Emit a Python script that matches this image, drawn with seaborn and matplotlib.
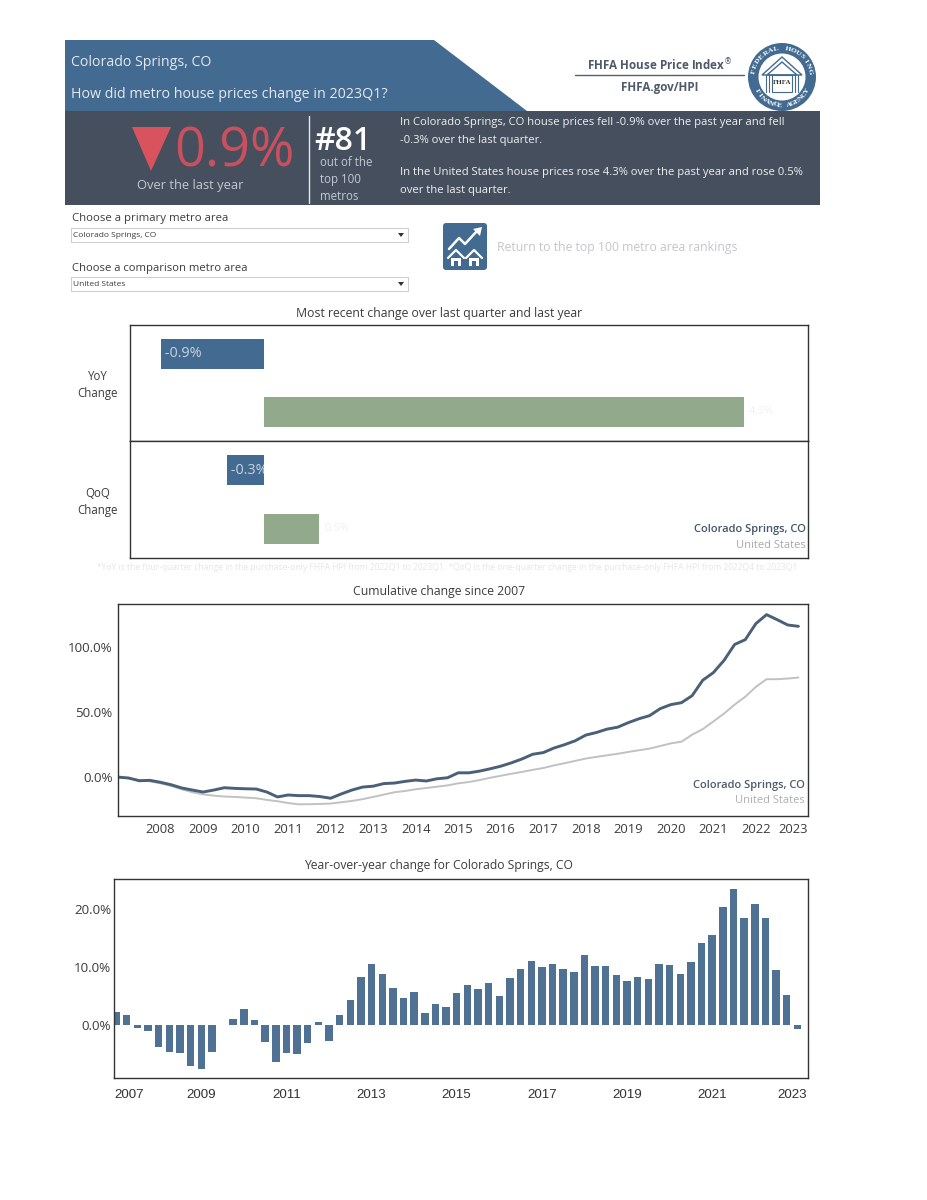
import numpy as np
import pandas as pd
import matplotlib
matplotlib.use("Agg")
import matplotlib.pyplot as plt
from matplotlib.patches import Polygon, Rectangle, Circle, FancyBboxPatch
import seaborn as sns

# values
metros = ["Colorado Springs, CO", "United States"]
yoy_change = [-0.93, 4.31]
qoq_change = [-0.34, 0.49]
yoy_labels = ["-0.9%", "4.3%"]
qoq_labels = ["-0.3%", "0.5%"]

quarters = pd.period_range("2007Q1", "2023Q1", freq="Q").astype(str).tolist()

cumulative_primary = [
    0, -0.7, -2.8, -2.5, -4, -5.9, -8.4, -10, -11.5, -10, -8.2, -8.7, -9, -9.2, -11.5, -15.3,
    -13.8, -14.3, -14.3, -15, -16.3, -13, -10, -7.7, -7, -5, -4.6, -3.3, -2.3, -3, -1.3, -0.5,
    3.3, 3.3, 4.6, 6.4, 8.4, 11, 14, 17.6, 18.9, 22.4, 25, 28, 32.4, 34.4, 37, 38.5,
    42, 45, 47.4, 52.8, 55.9, 57.4, 62.8, 74.7, 80.6, 90, 102.3, 106, 118.4, 125.3, 121.4, 117.3, 116.3,
]
cumulative_compare = [
    0, -1, -2.3, -3.3, -4.8, -6.9, -9.4, -11.7, -13.3, -14.3, -15, -15.3, -15.8, -16.3, -17.6, -18.6,
    -20, -21, -20.9, -20.7, -20.4, -19.4, -18.4, -17, -15.3, -13.5, -11.7, -10.7, -9.4, -8.4, -7.4, -6.4,
    -4.8, -3.8, -2.3, -0.5, 1, 2.6, 4, 5.6, 7, 9, 10.7, 12.5, 14.3, 15.6, 16.8, 18,
    19.4, 20.7, 22, 24, 26, 27.3, 32.7, 37, 42.9, 49, 55.9, 62, 69.6, 75.5, 75.5, 76, 76.8,
]
yoy_history = [
    2.2, 1.7, -0.6, -1.1, -3.9, -4.7, -5.0, -7.3, -7.7, -4.7, 0, 0.9, 2.7, 0.8, -3.0, -6.6,
    -4.9, -5.1, -3.2, 0.35, -2.8, 1.6, 4.3, 8.3, 10.5, 8.8, 6.3, 4.6, 5.6, 2.0, 3.6, 3.0,
    5.5, 6.8, 6.2, 7.2, 5.0, 8.0, 9.7, 11.0, 10.0, 10.6, 9.6, 9.2, 12.0, 10.1, 10.1, 8.6,
    7.5, 8.3, 7.9, 10.6, 10.4, 8.8, 10.8, 14.2, 15.6, 20.5, 23.6, 18.5, 21.0, 18.5, 9.5, 5.2, -0.8,
]

line_years = list(range(2008, 2024))
bar_years = list(range(2007, 2024, 2))

BLUE = "#436b91"
DARK = "#454f5d"
GREEN = "#93a98c"
LINE = "#4b6076"
GREY_LINE = "#bfc2bf"
TEXT = "#3c3c3c"
W, H = 927, 1200

sns.set_theme(style="white")
plt.rcParams["font.family"] = ["Open Sans", "DejaVu Sans"]


def panel(fig, left, top, right, bottom):
    ax = fig.add_axes([left / W, 1 - bottom / H, (right - left) / W, (bottom - top) / H])
    for s in ax.spines.values():
        s.set_visible(True)
        s.set_color("#333333")
        s.set_linewidth(1.0)
    return ax


fig = plt.figure(figsize=(9.27, 12), dpi=100, facecolor="white")

# page level drawing in pixel coordinates
page = fig.add_axes([0, 0, 1, 1])
page.set_xlim(0, W)
page.set_ylim(H, 0)
page.axis("off")

page.add_patch(Polygon([(65, 40), (434, 40), (527, 111), (65, 111)], color=BLUE, lw=0))
page.add_patch(Rectangle((65, 111), 755, 94, color=DARK, lw=0))
page.text(71, 62, "Colorado Springs, CO", color="#e4e8ec", fontsize=10.2, va="center")
page.text(71, 95, "How did metro house prices change in 2023Q1?", color="#e4e8ec", fontsize=10.3, va="center")

page.add_patch(Polygon([(132, 127), (171, 127), (151, 171)], color="#d9535f", lw=0))
page.text(174, 152, "0.9%", color="#c9505e", fontsize=38.8, va="center", ha="left")
page.text(190, 186, "Over the last year", color="#c3cad2", fontsize=9.3, ha="center", va="center")
page.plot([309, 309], [116, 203], color="#e8e8e8", lw=1)
page.text(314, 141, "#81", color="white", fontsize=23, va="center", weight="semibold")
page.text(320, 162, "out of the", color="#c3cad2", fontsize=8.3, va="center")
page.text(320, 179, "top 100", color="#c3cad2", fontsize=8.3, va="center")
page.text(320, 196, "metros", color="#c3cad2", fontsize=8.3, va="center")

summary = [
    (122, "In Colorado Springs, CO house prices fell -0.9% over the past year and fell"),
    (141, "-0.3% over the last quarter."),
    (173, "In the United States house prices rose 4.3% over the past year and rose 0.5%"),
    (191, "over the last quarter."),
]
for y, line in summary:
    page.text(400, y, line, color="#eef0f2", fontsize=8.1, va="center")

# FHFA block
page.text(660, 65, "FHFA House Price Index$^{®}$", color="#50596a", fontsize=8.4, weight="bold", ha="center", va="center")
page.plot([575, 744], [75, 75], color="#555f6c", lw=1)
page.text(660, 87, "FHFA.gov/HPI", color="#50596a", fontsize=8.4, weight="bold", ha="center", va="center")

cx, cy = 782, 77
page.add_patch(Circle((cx, cy), 34, color=BLUE, lw=0))
page.add_patch(Circle((cx, cy), 23.5, color="white", lw=0))
page.add_patch(Polygon([(cx - 20, cy - 2), (cx, cy - 20), (cx + 20, cy - 2)], fill=False, ec=BLUE, lw=1))
page.add_patch(Polygon([(cx - 15, cy - 2), (cx, cy - 15), (cx + 15, cy - 2)], fill=False, ec=BLUE, lw=1))
page.add_patch(Rectangle((cx - 10, cy - 2), 20, 17, fill=False, ec=BLUE, lw=0.8))
for px in (cx - 16, cx - 13, cx + 13, cx + 16):
    page.plot([px, px], [cy - 2, cy + 15], color=BLUE, lw=0.8)
page.text(cx, cy + 6, "FHFA", fontsize=5, weight="bold", color="#333333", ha="center", va="center", family="Liberation Serif")
for word, start, end, flip in [("FEDERAL HOUSING", -168, -12, False), ("FINANCE AGENCY", 150, 30, True)]:
    for ch, deg in zip(word, np.linspace(start, end, len(word))):
        rad = np.radians(deg)
        page.text(cx + 28.5 * np.cos(rad), cy + 28.5 * np.sin(rad), ch, color="white", fontsize=5.4,
                  ha="center", va="center", family="Liberation Serif", weight="bold",
                  rotation=(90 - deg) if flip else (-deg - 90))

# selectors
page.text(72, 218, "Choose a primary metro area", color=TEXT, fontsize=8.2, va="center")
page.text(72, 268, "Choose a comparison metro area", color=TEXT, fontsize=8.1, va="center")
for y, name in [(228, "Colorado Springs, CO"), (277, "United States")]:
    page.add_patch(Rectangle((71, y), 337, 14, fc="white", ec="#cfcfcf", lw=0.8))
    page.text(73, y + 7.5, name, color=TEXT, fontsize=6, va="center")
    page.add_patch(Polygon([(398, y + 5), (404, y + 5), (401, y + 9)], color="#333333", lw=0))

# link icon
page.add_patch(FancyBboxPatch((443, 223), 44, 47, boxstyle="round,pad=0,rounding_size=3", fc=BLUE, ec="none"))
page.plot([449, 459, 465, 477], [249, 238, 244, 231], color="white", lw=1.8)
page.add_patch(Polygon([(482, 227), (473, 229), (480, 236)], color="white", lw=0))
for hx in (456, 474):
    page.plot([hx - 8, hx, hx + 8], [258, 250, 258], color="white", lw=1.6)
    page.add_patch(Rectangle((hx - 5, 258), 10, 8, color="white", lw=0))
    page.add_patch(Rectangle((hx - 2, 261), 4, 5, color=BLUE, lw=0))
page.text(497, 248, "Return to the top 100 metro area rankings", color="#c4c6c8", fontsize=8.8, va="center")

# chart titles and notes
page.text(439, 313, "Most recent change over last quarter and last year", color=TEXT, fontsize=8.8, ha="center", va="center")
page.text(439, 592, "Cumulative change since 2007", color=TEXT, fontsize=8.8, ha="center", va="center")
page.text(438, 865, "Year-over-year change for Colorado Springs, CO", color=TEXT, fontsize=8.75, ha="center", va="center")
page.text(97, 568, "*YoY is the four-quarter change in the purchase-only FHFA HPI from 2022Q1 to 2023Q1. "
          "*QoQ is the one-quarter change in the purchase-only FHFA HPI from 2022Q4 to 2023Q1",
          color="#e6e6e6", fontsize=6.15, va="center")
page.text(98, 385, "YoY\nChange", color=TEXT, fontsize=8.3, ha="center", va="center", linespacing=1.35)
page.text(98, 502, "QoQ\nChange", color=TEXT, fontsize=8.3, ha="center", va="center", linespacing=1.35)

# most recent change
for (top, bottom), vals, labs in [((325, 441), yoy_change, yoy_labels), ((441, 558), qoq_change, qoq_labels)]:
    ax = panel(fig, 130, top, 808, bottom)
    df = pd.DataFrame({"metro": metros, "change": vals})
    sns.barplot(data=df, x="change", y="metro", hue="metro", palette=[BLUE, GREEN],
                legend=False, width=0.52, ax=ax, saturation=1, linewidth=0)
    ax.set_xlim(-1.21, 4.89)
    ax.set_xlabel("")
    ax.set_ylabel("")
    ax.set_xticks([])
    ax.set_yticks([])
    t = ax.text(vals[0], 0, " " + labs[0], color="#c8d4e0", fontsize=10.4, ha="left", va="center", clip_on=True)
    t.set_clip_path(ax.patches[0])
    ax.text(vals[1] + 0.05, 1, labs[1], color="#f0f0f0", fontsize=8, ha="left", va="center")
ax.text(0.9965, 0.245, metros[0], transform=ax.transAxes, color="#44566a", fontsize=8, weight="semibold", ha="right", va="center")
ax.text(0.9965, 0.105, metros[1], transform=ax.transAxes, color="#a8a8a8", fontsize=8, ha="right", va="center")

# cumulative change
ax = panel(fig, 118, 604, 808, 816)
idx = np.arange(len(quarters))
sns.lineplot(x=idx, y=cumulative_compare, color=GREY_LINE, lw=1.4, ax=ax)
sns.lineplot(x=idx, y=cumulative_primary, color=LINE, lw=2.1, ax=ax)
ax.set_xlim(0, 64.9)
ax.set_ylim(-30, 133.5)
ax.set_yticks([0, 50, 100])
ax.set_yticklabels(["0.0%", "50.0%", "100.0%"], fontsize=9.6, color=TEXT)
ticks = [quarters.index(f"{y}Q1") for y in line_years]
ticks[-1] -= 0.5  # last label sits a little inside the frame
ax.set_xticks(ticks)
ax.set_xticklabels([str(y) for y in line_years], fontsize=9.4, color=TEXT)
ax.tick_params(axis="x", length=0, pad=5)
ax.tick_params(axis="y", length=0, pad=4)
ax.text(0.9955, 0.146, metros[0], transform=ax.transAxes, color="#4d5c6e", fontsize=8, weight="semibold", ha="right", va="center")
ax.text(0.9955, 0.072, metros[1], transform=ax.transAxes, color="#b0b0b0", fontsize=8, ha="right", va="center")

# year over year history
ax = panel(fig, 114, 879, 808, 1078)
df = pd.DataFrame({"quarter": quarters, "change": yoy_history})
sns.barplot(data=df, x="quarter", y="change", color="#4f7194", saturation=1, width=0.7, linewidth=0, ax=ax)
ax.set_xlim(-0.2, 65)
ax.set_ylim(-9.3, 25.3)
ax.set_xlabel("")
ax.set_ylabel("")
ax.set_yticks([0, 10, 20])
ax.set_yticklabels(["0.0%", "10.0%", "20.0%"], fontsize=9.6, color=TEXT)
ticks = [quarters.index(f"{y}Q1") for y in bar_years]
ticks[0] = -0.2
ticks[-1] -= 0.5
ax.set_xticks(ticks)
labels = ax.set_xticklabels([str(y) for y in bar_years], fontsize=9.6, color="#333333",
                            family=["Liberation Sans", "DejaVu Sans"])
labels[0].set_ha("left")
ax.tick_params(axis="x", length=0, pad=8)
ax.tick_params(axis="y", length=0, pad=2)

fig.savefig("out.png", dpi=100)
